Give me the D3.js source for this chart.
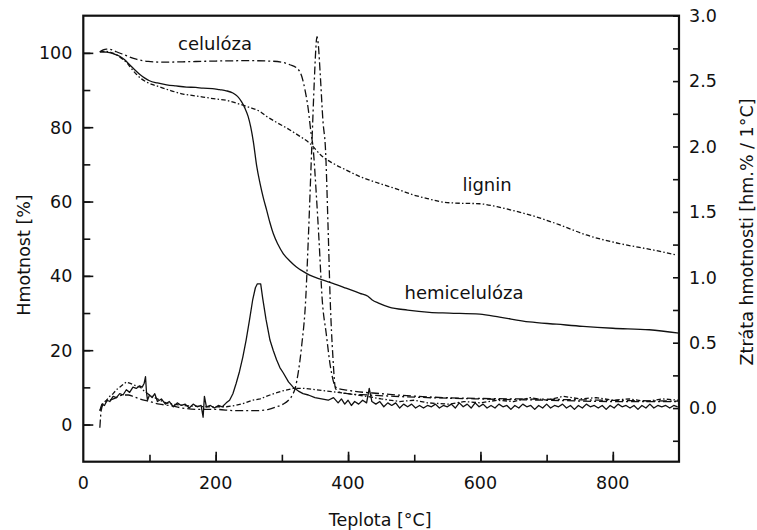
<!DOCTYPE html>
<html><head><meta charset="utf-8">
<script src="https://cdn.jsdelivr.net/npm/d3@7"></script>
<style>
html,body{margin:0;padding:0;background:#fff;}
svg{display:block;font-family:"DejaVu Sans",Verdana,sans-serif;}
</style></head>
<body><svg id="c" width="757" height="530"></svg>
<script>
// ---- data (temperature °C, value) ----
const xTicks = [0,200,400,600,800];
const leftTicks = [0,20,40,60,80,100];
const rightTicks = [0.0,0.5,1.0,1.5,2.0,2.5,3.0];

// mass curves (left axis, %)
const hemiMass = [[25,100.3],[35,100.2],[45,99.8],[55,99.1],[62,98.2],[70,96.8],[78,95.4],[86,94.1],[93,93.2],[100,92.5],[112,91.9],[126,91.4],[140,91.1],[156,90.8],[170,90.7],[181,90.5],[195,90.4],[206,90.1],[216,89.8],[226,89.2],[233,88.3],[239,86.9],[244,85.2],[249,82.9],[253,80],[257,76],[262,69.5],[267,64.9],[272,61],[277,57.7],[282,54.3],[287,51.4],[294,48.5],[302,46],[312,44],[322,42.4],[332,41.2],[342,40.2],[360,39],[377,38],[397,36.7],[418,35.3],[430,34.5],[436,33.6],[447,32.6],[462,31.6],[490,30.8],[523,30.2],[553,30.0],[599,29.7],[629,28.9],[674,27.6],[715,27],[755,26.4],[800,25.9],[855,25.5],[900,24.6]];
const celMass = [[25,100.3],[30,100.8],[35,101],[42,100.9],[50,100.3],[60,99.6],[70,98.9],[80,98.3],[90,97.9],[98,97.7],[120,97.5],[150,97.6],[200,97.8],[250,97.9],[280,97.8],[300,97.5],[312,96.8],[322,96],[330,93.7],[335,90],[340,84.7],[344,78.5],[347,74.8],[352,62],[356,50],[361,33.5],[367,24.5],[373,16],[378,11.5],[383,9.8],[400,9.2],[450,8.3],[553,7.2],[700,6.8],[800,6.5],[900,6.3]];
const ligMass = [[25,100.3],[35,100.4],[42,100.1],[50,99.5],[58,98.5],[66,97.3],[73,95.7],[81,94.1],[88,93],[96,92.1],[106,91.4],[116,90.8],[133,89.8],[151,88.9],[166,88.5],[181,88.1],[200,87.6],[217,87.2],[236,86.2],[250,85.4],[267,84.2],[277,82.9],[292,81.3],[307,79.8],[325,77.8],[342,75.7],[360,72.3],[377,70.3],[397,68.5],[418,66.7],[447,64.9],[478,63.1],[498,61.8],[520,60.8],[538,60],[560,59.6],[599,59.4],[625,58.6],[649,57.6],[684,55.9],[720,53.7],[760,51],[810,48.7],[860,47],[896,45.6]];

// mass-loss rate curves (right axis, hm.% / 1°C)
const hemiDtg = [[25,-0.02],[28,0.03],[32,0.02],[36,0.06],[40,0.05],[45,0.09],[50,0.08],[55,0.11],[60,0.1],[65,0.14],[70,0.12],[75,0.16],[80,0.15],[85,0.17],[89,0.16],[92,0.19],[94,0.24],[95.5,0.12],[97,0.06],[100,0.1],[104,0.08],[108,0.11],[112,0.05],[118,0.07],[124,0.03],[130,0.05],[136,0.01],[142,0.04],[148,0.02],[154,0.03],[160,0.0],[166,0.03],[172,0.01],[178,0.02],[181,-0.07],[183,0.09],[186,0.01],[192,0.02],[198,0.0],[204,0.02],[210,0.01],[216,0.04],[221,0.06],[226,0.11],[231,0.19],[236,0.28],[241,0.39],[246,0.52],[251,0.67],[256,0.83],[260,0.92],[263,0.95],[268,0.95],[271,0.84],[276,0.68],[282,0.52],[287,0.44],[292,0.37],[297,0.31],[302,0.27],[310,0.2],[317,0.16],[325,0.13],[332,0.11],[340,0.1],[350,0.08],[360,0.07],[370,0.06],[378,0.08],[385,0.04],[390,0.07],[395,0.03],[400,0.06],[405,0.02],[410,0.05],[416,0.03],[422,0.06],[428,0.04],[432,0.15],[436,0.05],[442,0.03],[448,0.05],[454,0.01],[460,0.04],[466,0.02],[472,0.04],[478,0.0],[484,0.03],[490,0.01],[496,0.03],[502,0.0],[508,0.02],[514,0.0],[520,0.02],[526,0.01],[532,0.03],[538,0.0],[544,0.02],[550,0.01],[556,0.03],[562,0.0],[568,0.04],[574,0.01],[580,0.03],[586,0.0],[592,0.04],[598,0.01],[604,0.03],[610,0.0],[616,0.02],[622,0.0],[628,0.03],[634,0.01],[640,0.02],[646,-0.01],[652,0.02],[658,0.0],[664,0.03],[670,0.01],[676,0.02],[682,-0.01],[688,0.02],[694,0.0],[700,0.03],[706,0.0],[712,0.02],[718,0.01],[724,0.03],[730,0.0],[736,0.02],[742,-0.01],[748,0.02],[754,0.0],[760,0.03],[766,0.01],[772,0.02],[778,0.0],[784,0.02],[790,-0.01],[796,0.02],[802,0.0],[808,0.03],[814,0.01],[820,0.02],[826,0.0],[832,0.02],[838,-0.01],[844,0.02],[850,0.0],[856,0.03],[862,0.0],[868,0.02],[874,0.01],[880,0.02],[886,0.0],[892,0.02],[898,0.01]];
const celDtg = [[25,-0.15],[27,-0.02],[30,0.03],[35,0.05],[40,0.06],[50,0.08],[60,0.1],[68,0.1],[75,0.09],[85,0.07],[100,0.05],[115,0.03],[130,0.02],[150,0.0],[175,-0.01],[200,-0.01],[230,-0.02],[260,-0.02],[280,-0.01],[292,0.01],[302,0.03],[310,0.06],[316,0.1],[320,0.15],[325,0.28],[330,0.48],[336,0.83],[340,1.3],[345,1.97],[349,2.5],[351,2.72],[353,2.84],[355,2.78],[358,2.55],[362,2.2],[366,1.97],[370,1.35],[373,0.83],[377,0.4],[381,0.15],[388,0.12],[400,0.11],[430,0.1],[470,0.09],[520,0.08],[600,0.07],[700,0.06],[800,0.05],[900,0.05]];
const ligDtg = [[25,-0.02],[30,0.04],[35,0.06],[40,0.09],[45,0.11],[50,0.14],[55,0.16],[60,0.18],[65,0.2],[70,0.19],[75,0.18],[80,0.17],[86,0.16],[92,0.13],[100,0.1],[108,0.08],[116,0.06],[125,0.04],[135,0.03],[150,0.02],[166,0.015],[185,0.01],[200,0.01],[216,0.01],[230,0.02],[245,0.04],[255,0.06],[267,0.07],[282,0.1],[300,0.13],[317,0.15],[335,0.15],[352,0.14],[377,0.125],[400,0.11],[428,0.09],[450,0.07],[478,0.05],[500,0.06],[520,0.04],[553,0.03],[575,0.05],[600,0.04],[625,0.06],[650,0.05],[675,0.08],[700,0.06],[725,0.09],[750,0.07],[775,0.08],[800,0.06],[825,0.07],[850,0.05],[875,0.07],[900,0.06]];

// ---- layout ----
const svg = d3.select("#c");
const L=83.3, R=679, T=15.7, B=461.7;
const x = d3.scaleLinear([0,900],[L,R]);
const yL = d3.scaleLinear([-10,110],[B,T]);
const yR = d3.scaleLinear([-0.41,3.0],[B,T]);
const ink = "#111";
const fs = 17.5;

// clip
svg.append("clipPath").attr("id","clip").append("rect").attr("x",L).attr("y",T).attr("width",R-L).attr("height",B-T);

const g = svg.append("g").attr("clip-path","url(#clip)");
const styles = {hemi:null, cel:"8,3,2,3", lig:"4.5,2.2,1.5,2.2"};
function draw(data, ys, dash, curve){
  const line = d3.line().x(d=>x(d[0])).y(d=>ys(d[1])).curve(curve);
  g.append("path").datum(data).attr("d",line).attr("fill","none")
   .attr("stroke",ink).attr("stroke-width",1.3).attr("stroke-linejoin","round")
   .attr("stroke-dasharray",dash);
}
draw(hemiMass, yL, styles.hemi, d3.curveMonotoneX);
draw(celMass, yL, styles.cel, d3.curveMonotoneX);
draw(ligMass, yL, styles.lig, d3.curveMonotoneX);
draw(hemiDtg, yR, styles.hemi, d3.curveLinear);
draw(celDtg, yR, styles.cel, d3.curveMonotoneX);
draw(ligDtg, yR, styles.lig, d3.curveLinear);

// ---- axes ----
const ax = svg.append("g");
// left ticks (inward)
ax.append("g").attr("transform",`translate(${L},0)`)
  .call(d3.axisRight(yL).tickValues(d3.range(0,101,10)).tickSize(7).tickFormat(""))
  .call(s=>s.select(".domain").remove())
  .call(s=>s.selectAll("line").attr("stroke",ink).attr("stroke-width",1.6));
ax.append("g").attr("transform",`translate(${L},0)`)
  .call(d3.axisRight(yL).tickValues(leftTicks).tickSize(10).tickFormat(""))
  .call(s=>s.select(".domain").remove())
  .call(s=>s.selectAll("line").attr("stroke",ink).attr("stroke-width",1.6));
ax.selectAll(".lt").data(leftTicks).join("text").attr("class","lt")
  .attr("x",L-11).attr("y",d=>yL(d)).attr("dy","0.36em").attr("text-anchor","end")
  .attr("font-size",fs).attr("fill",ink).text(d=>d);
// right ticks
ax.append("g").attr("transform",`translate(${R},0)`)
  .call(d3.axisLeft(yR).tickValues(d3.range(-0.25,3.01,0.25)).tickSize(6).tickFormat(""))
  .call(s=>s.select(".domain").remove())
  .call(s=>s.selectAll("line").attr("stroke",ink).attr("stroke-width",1.6));
ax.selectAll(".rt").data(rightTicks).join("text").attr("class","rt")
  .attr("x",R+10).attr("y",d=>yR(d)).attr("dy","0.36em").attr("text-anchor","start")
  .attr("font-size",fs).attr("fill",ink).text(d=>d3.format(".1f")(d));
// bottom ticks
ax.append("g").attr("transform",`translate(0,${B})`)
  .call(d3.axisTop(x).tickValues(d3.range(100,900,100)).tickSize(7).tickFormat(""))
  .call(s=>s.select(".domain").remove())
  .call(s=>s.selectAll("line").attr("stroke",ink).attr("stroke-width",1.6));
ax.append("g").attr("transform",`translate(0,${B})`)
  .call(d3.axisTop(x).tickValues(xTicks.filter(d=>d>0)).tickSize(10).tickFormat(""))
  .call(s=>s.select(".domain").remove())
  .call(s=>s.selectAll("line").attr("stroke",ink).attr("stroke-width",1.6));
ax.selectAll(".bt").data(xTicks).join("text").attr("class","bt")
  .attr("x",d=>x(d)).attr("y",B+27).attr("text-anchor","middle")
  .attr("font-size",fs).attr("fill",ink).text(d=>d);
// frame
svg.append("rect").attr("x",L).attr("y",T).attr("width",R-L).attr("height",B-T)
  .attr("fill","none").attr("stroke",ink).attr("stroke-width",2.2);

// titles
svg.append("text").attr("x",(L+R)/2-1).attr("y",526).attr("text-anchor","middle")
  .attr("font-size",fs).attr("fill",ink).text("Teplota [°C]");
svg.append("text").attr("transform","translate(24,255) rotate(-90)").attr("dy","0.35em")
  .attr("text-anchor","middle").attr("font-size",fs).attr("fill",ink).text("Hmotnost [%]");
svg.append("text").attr("transform","translate(747,232) rotate(-90)").attr("dy","0.35em")
  .attr("text-anchor","middle").attr("font-size",fs).attr("fill",ink).text("Ztráta hmotnosti [hm.% / 1°C]");

// curve labels
const labels = [["celulóza",215,50],["lignin",487,191],["hemicelulóza",464,299]];
svg.selectAll(".cl").data(labels).join("text").attr("class","cl")
  .attr("x",d=>d[1]).attr("y",d=>d[2]).attr("text-anchor","middle")
  .attr("font-size",18).attr("fill",ink).text(d=>d[0]);
</script></body></html>
